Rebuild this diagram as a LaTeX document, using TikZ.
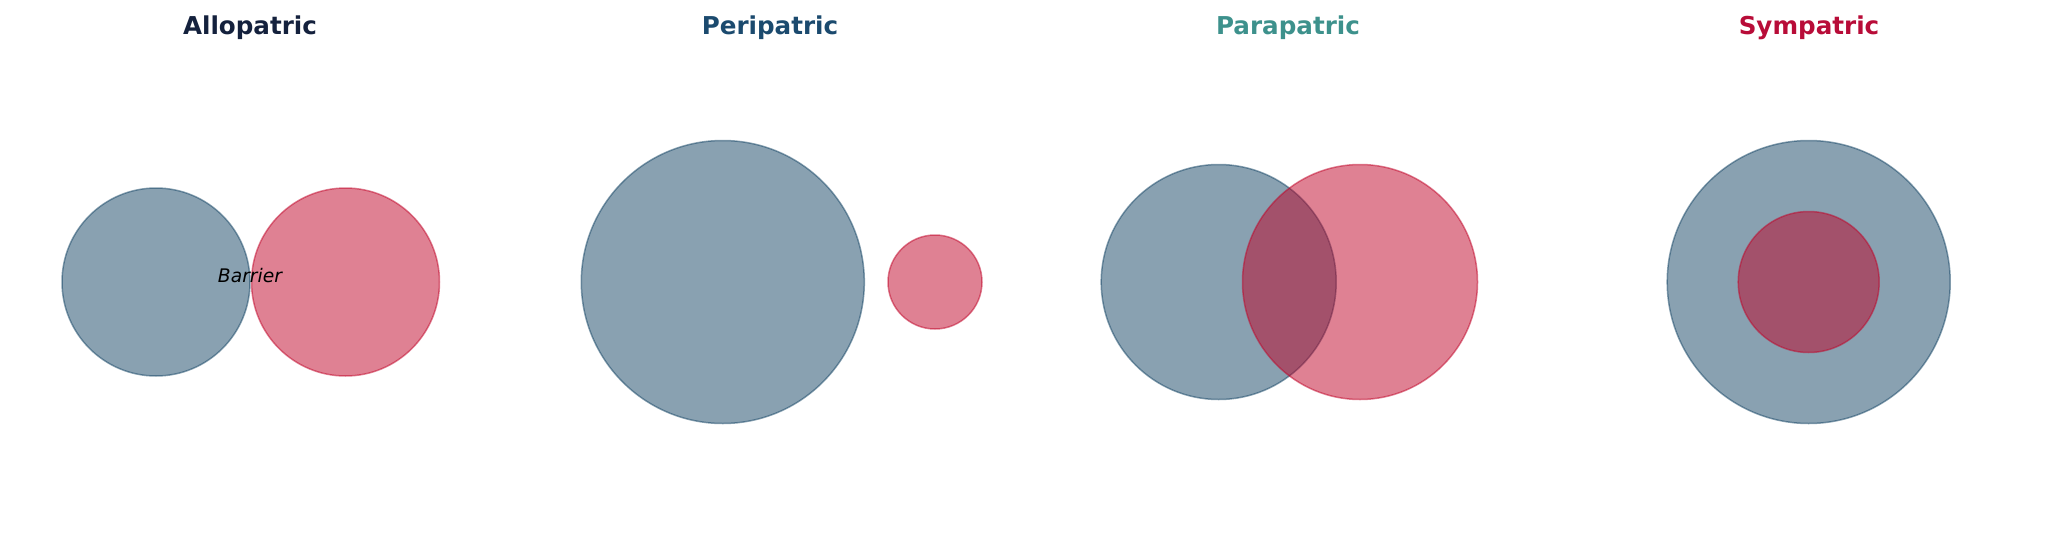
\documentclass[tikz,border=0pt]{standalone}
\usepackage{fontspec}
\setmainfont{DejaVu Sans}
\definecolor{rangeblue}{RGB}{19,67,99}
\definecolor{rangered}{RGB}{191,3,39}
\definecolor{titlenavy}{HTML}{14213D}
\definecolor{titleblue}{HTML}{1B4A6E}
\definecolor{titleteal}{HTML}{3D918C}
\definecolor{titlered}{HTML}{B80C38}
\begin{document}
\begin{tikzpicture}[x=1pt, y=-1pt,
  pop/.style={circle, inner sep=0pt, line width=1.5pt, opacity=0.5},
  popA/.style={pop, draw=rangeblue, fill=rangeblue},
  popB/.style={pop, draw=rangered, fill=rangered},
  heading/.style={anchor=base, font=\fontsize{24.6}{30}\selectfont\bfseries}]
\useasboundingbox (0,0) rectangle (2059,533);
% allopatric
\node[heading, titlenavy] (tallo) at (250,34){Allopatric};
\node[popA, minimum size=188pt] (allo0) at (156,282){};
\node[popB, minimum size=188pt] (allo1) at (345.5,282){};
\node[anchor=base, font=\fontsize{18.7}{23}\selectfont\itshape] (barrier) at (250,282){Barrier};
% peripatric
\node[heading, titleblue] (tperi) at (770,34){Peripatric};
\node[popA, minimum size=283pt] (peri0) at (722.8,282){};
\node[popB, minimum size=94pt] (peri1) at (935,282){};
% parapatric
\node[heading, titleteal] (tpara) at (1288,34){Parapatric};
\node[popA, minimum size=235pt] (para0) at (1218.7,282){};
\node[popB, minimum size=235pt] (para1) at (1360,282){};
% sympatric
\node[heading, titlered] (tsym) at (1809,34){Sympatric};
\node[popA, minimum size=283pt] (sym0) at (1808.7,282){};
\node[popB, minimum size=141pt] (sym1) at (1808.7,282){};
\end{tikzpicture}
\end{document}
